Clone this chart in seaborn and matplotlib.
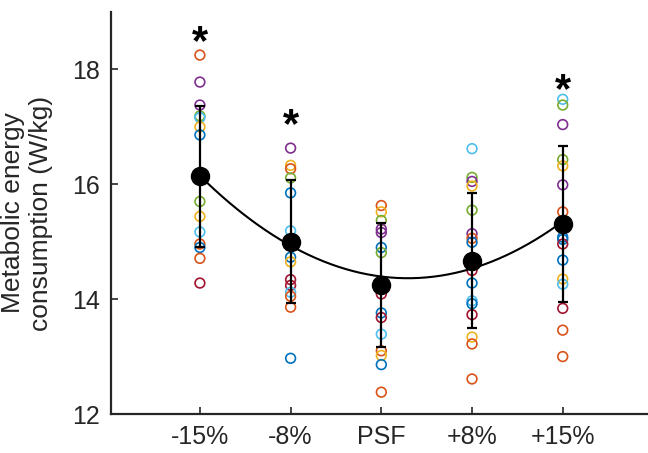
import numpy as np
import pandas as pd
import matplotlib
matplotlib.use('Agg')
import matplotlib.pyplot as plt
import seaborn as sns

sns.set_style('ticks')
plt.rcParams['font.family'] = ['Liberation Sans', 'DejaVu Sans']
plt.rcParams['font.size'] = 18

# Datos
conditions = ['-15%', '-8%', 'PSF', '+8%', '+15%']

vals_m15 = [18.25, 17.78, 17.38, 17.19, 17.16, 17.00, 16.86, 15.70, 15.44, 15.17, 14.96, 14.90, 14.71, 14.28]
cols_m15 = ['orange', 'purple', 'purple', 'green', 'lightblue', 'yellow', 'blue', 'green', 'yellow', 'lightblue', 'orange', 'blue', 'orange', 'crimson']

vals_m8 = [16.63, 16.33, 16.27, 16.11, 15.85, 15.19, 14.73, 14.65, 14.34, 14.24, 14.12, 14.05, 13.86, 12.97]
cols_m8 = ['purple', 'yellow', 'orange', 'green', 'blue', 'lightblue', 'blue', 'yellow', 'crimson', 'crimson', 'lightblue', 'orange', 'orange', 'blue']

vals_psf = [15.63, 15.52, 15.37, 15.22, 15.16, 14.90, 14.81, 14.09, 13.76, 13.68, 13.39, 13.10, 13.02, 12.86, 12.38]
cols_psf = ['orange', 'yellow', 'green', 'purple', 'purple', 'blue', 'green', 'crimson', 'blue', 'crimson', 'lightblue', 'orange', 'yellow', 'blue', 'orange']

vals_p8 = [16.62, 16.12, 16.05, 15.97, 15.55, 15.14, 15.06, 14.99, 14.50, 14.28, 13.97, 13.92, 13.73, 13.34, 13.22, 12.61]
cols_p8 = ['lightblue', 'green', 'purple', 'yellow', 'green', 'purple', 'orange', 'blue', 'crimson', 'blue', 'lightblue', 'blue', 'crimson', 'yellow', 'orange', 'orange']

vals_p15 = [17.48, 17.38, 17.04, 16.43, 16.32, 15.99, 15.52, 15.08, 15.04, 14.96, 14.68, 14.35, 14.26, 13.84, 13.46, 13.00]
cols_p15 = ['lightblue', 'green', 'purple', 'green', 'yellow', 'purple', 'orange', 'blue', 'blue', 'crimson', 'blue', 'yellow', 'lightblue', 'crimson', 'orange', 'orange']

means = [16.14, 15.00, 14.24, 14.67, 15.31]
sds = [1.23, 1.07, 1.08, 1.17, 1.36]

signif = ['-15%', '-8%', '+15%']
star_y = [18.46, 17.01, 17.62]

palette = {'blue': '#0072BD', 'orange': '#D95319', 'yellow': '#EDB120', 'purple': '#7E2F8E',
           'green': '#77AC30', 'lightblue': '#4DBEEE', 'crimson': '#A2142F'}

# Tabla larga
all_vals = [vals_m15, vals_m8, vals_psf, vals_p8, vals_p15]
all_cols = [cols_m15, cols_m8, cols_psf, cols_p8, cols_p15]
rows = []
for cond, vs, cs in zip(conditions, all_vals, all_cols):
    for v, c in zip(vs, cs):
        rows.append({'cond': cond, 'val': v, 'color': c})
df = pd.DataFrame(rows)

fig = plt.figure(figsize=(6.48, 4.53), dpi=100)
ax = fig.add_axes([111 / 648, 39 / 453, 537 / 648, 402 / 453])

sns.stripplot(data=df, x='cond', y='val', hue='color', palette=palette, order=conditions,
              jitter=False, size=7, linewidth=1.2, legend=False, ax=ax, zorder=2)
# circulos huecos
for coll in ax.collections:
    fc = coll.get_facecolors()
    coll.set_edgecolors(fc)
    coll.set_facecolors('none')

# curva cuadratica ajustada a las medias
xpos = np.arange(len(conditions))
coef = np.polyfit(xpos, means, 2)
xs = np.linspace(0, len(conditions) - 1, 200)
sns.lineplot(x=xs, y=np.polyval(coef, xs), color='black', linewidth=1.5, ax=ax, zorder=3)

ax.errorbar(xpos, means, yerr=sds, fmt='o', color='black', markersize=13,
            elinewidth=1.6, capsize=3.8, capthick=1.6, zorder=4)

for cond, sy in zip(signif, star_y):
    ax.text(conditions.index(cond), sy, '*', ha='center', va='center',
            fontsize=30, fontweight='bold', color='black')

ax.set_xlim(-0.98, 4.94)
ax.set_ylim(12, 19)
ax.set_yticks([12, 14, 16, 18])
ax.set_xlabel('')
ax.set_ylabel('Metabolic energy\nconsumption (W/kg)', fontsize=19, color='#262626')
ax.yaxis.set_label_coords(-0.108, 0.5)

sns.despine(ax=ax)
for s in ['left', 'bottom']:
    ax.spines[s].set_linewidth(1.6)
    ax.spines[s].set_color('#262626')
ax.tick_params(direction='in', length=5, width=1.2, color='#262626',
               labelcolor='#262626', labelsize=18, pad=8)

plt.savefig('out.png', dpi=100)
